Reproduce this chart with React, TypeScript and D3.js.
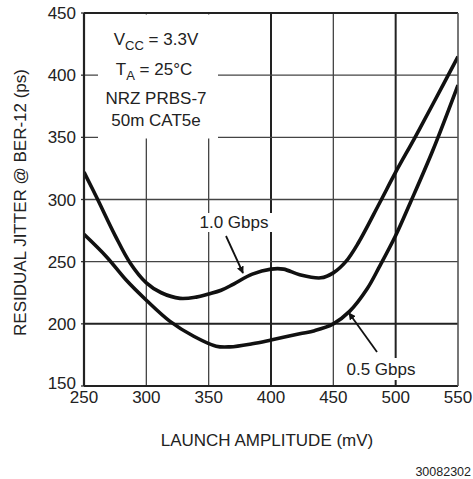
import React from "react";
import * as d3 from "d3";

const xTicks = [250, 300, 350, 400, 450, 500, 550];
const yTicks = [150, 200, 250, 300, 350, 400, 450];

const amp1G = [250, 260, 275, 287, 300, 312, 327, 340, 350, 360, 370, 385, 400, 410, 423, 440, 450, 460, 470, 487, 500, 515, 530, 550];
const jit1G = [322, 302, 271, 249, 233, 225, 220.5, 221.5, 224, 227, 232, 240, 244, 244, 239.5, 237, 241, 250, 265, 297, 322, 349, 377, 415];

const amp05G = [250, 268, 284, 300, 319, 338, 356, 367, 385, 400, 423, 435, 450, 463, 477, 487, 500, 512, 530, 550];
const jit05G = [272, 254, 235, 219, 202, 190, 182, 181.5, 184, 187, 192, 194.5, 200, 210, 228, 246, 271, 298, 340, 392];

const thickX = [400, 500];
const thickY = [200];

const FONT = "Liberation Sans, Arial, sans-serif";

export default function App() {
  const W = 473, H = 479;
  const L = 84, R = 458, T = 13, B = 386;
  const x = d3.scaleLinear().domain([250, 550]).range([L, R]);
  const y = d3.scaleLinear().domain([150, 450]).range([B, T]);
  const line = d3.line<[number, number]>().x(d => x(d[0])).y(d => y(d[1])).curve(d3.curveCatmullRom.alpha(0.5));
  const d1 = line(amp1G.map((a, i) => [a, jit1G[i]]));
  const d2 = line(amp05G.map((a, i) => [a, jit05G[i]]));

  return (
    <svg width={W} height={H} style={{ position: "absolute", left: 0, top: 0, background: "#fff" }}>
      <defs>
        <marker id="ah" viewBox="0 0 10 10" refX="9" refY="5" markerWidth="4" markerHeight="4" orient="auto" markerUnits="strokeWidth">
          <path d="M0,0 L10,5 L0,10 z" fill="#111" />
        </marker>
        <clipPath id="clip"><rect x={L} y={T} width={R - L} height={B - T} /></clipPath>
      </defs>
      {/* grid */}
      {xTicks.slice(1, -1).map(v => (
        <line key={"gx" + v} x1={x(v)} x2={x(v)} y1={T} y2={B} stroke={thickX.includes(v) ? "#222" : "#444"} strokeWidth={thickX.includes(v) ? 2 : 1.3} />
      ))}
      {yTicks.slice(1, -1).map(v => (
        <line key={"gy" + v} x1={L} x2={R} y1={y(v)} y2={y(v)} stroke={thickY.includes(v) ? "#222" : "#444"} strokeWidth={thickY.includes(v) ? 2 : 1.3} />
      ))}
      {/* y ticks */}
      {yTicks.map(v => (
        <line key={"ty" + v} x1={L - 3} x2={L} y1={y(v)} y2={y(v)} stroke="#333" strokeWidth={1.3} />
      ))}
      {/* annotation box knockout */}
      <rect x={98} y={T + 1.5} width={120} height={124} fill="#fff" />
      <g fontFamily={FONT} fontSize={17} fill="#222" textAnchor="middle">
        <text x={156} y={45}>V<tspan fontSize={13} dy={5}>CC</tspan><tspan dy={-5}> = 3.3V</tspan></text>
        <text x={154} y={75}>T<tspan fontSize={13} dy={5}>A</tspan><tspan dy={-5}> = 25°C</tspan></text>
        <text x={156} y={104}>NRZ PRBS-7</text>
        <text x={156} y={126}>50m CAT5e</text>
      </g>
      {/* curves */}
      <g clipPath="url(#clip)">
        <path d={d1 || ""} fill="none" stroke="#111" strokeWidth={3.6} strokeLinejoin="round" />
        <path d={d2 || ""} fill="none" stroke="#111" strokeWidth={3.6} strokeLinejoin="round" />
      </g>
      {/* labels */}
      <rect x={195} y={213} width={78} height={19} fill="#fff" />
      <text x={234} y={228} fontFamily={FONT} fontSize={17} fill="#222" textAnchor="middle">1.0 Gbps</text>
      <line x1={226} y1={236} x2={243} y2={273} stroke="#111" strokeWidth={1.8} markerEnd="url(#ah)" />
      <rect x={341} y={358} width={82} height={22} fill="#fff" />
      <text x={381} y={375} fontFamily={FONT} fontSize={17} fill="#222" textAnchor="middle">0.5 Gbps</text>
      <line x1={377} y1={352} x2={349} y2={313} stroke="#111" strokeWidth={1.8} markerEnd="url(#ah)" />
      {/* border */}
      <line x1={L} x2={R} y1={T} y2={T} stroke="#222" strokeWidth={2.2} />
      <line x1={L} x2={R} y1={B} y2={B} stroke="#222" strokeWidth={2.2} />
      <line x1={L} x2={L} y1={T} y2={B} stroke="#222" strokeWidth={2.2} />
      <line x1={R} x2={R} y1={T} y2={B} stroke="#555" strokeWidth={1.6} />
      {/* tick labels */}
      <g fontFamily={FONT} fontSize={17} fill="#222">
        {yTicks.map(v => (
          <text key={"ly" + v} x={L - 8} y={y(v) + (v === 150 ? 3 : 6)} textAnchor="end">{v}</text>
        ))}
        {xTicks.map(v => (
          <text key={"lx" + v} x={x(v)} y={403} textAnchor="middle">{v}</text>
        ))}
        <text x={267} y={446} textAnchor="middle">LAUNCH AMPLITUDE (mV)</text>
        <text transform={`translate(26, ${(T + B) / 2 + 3}) rotate(-90)`} textAnchor="middle">RESIDUAL JITTER @ BER-12 (ps)</text>
      </g>
      <text x={471} y={476} fontFamily={FONT} fontSize={12.5} fill="#222" textAnchor="end">30082302</text>
    </svg>
  );
}
